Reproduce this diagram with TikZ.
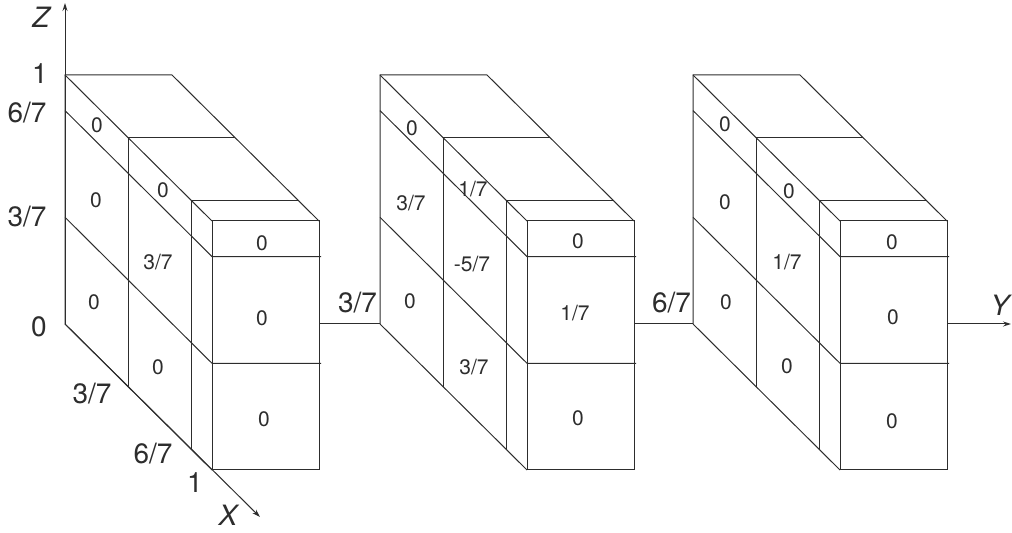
\documentclass[tikz,border=0pt]{standalone}
\usepackage{fontspec}
\setmainfont{TeX Gyre Heros}
\usetikzlibrary{arrows.meta,calc}
\definecolor{inkgray}{RGB}{45,45,45}

\begin{document}
\begin{tikzpicture}[x=0.5pt, y=-0.5pt,
    edge/.style={draw=inkgray, line width=0.5pt},
    axis/.style={edge, -{Stealth[length=4pt, width=2.5pt]}},
    axlabel/.style={font=\fontsize{14}{14}\selectfont, text=inkgray, inner sep=0pt},
    cell/.style={font=\fontsize{10.5}{10.5}\selectfont, text=inkgray, inner sep=0pt}]

    \useasboundingbox (0,0) rectangle (1012,533);

    % Slabs (back top left corner at (\ox,75))
    \foreach \n/\ox in {1/65, 2/380, 3/693} {
        \coordinate (s\n-o) at (\ox,324);
        \coordinate (s\n-r) at (\ox+254,324);
        \draw[edge] (\ox,324) -- (\ox,75) -- (\ox+107,75) -- (\ox+254,221);
        \draw[edge] (\ox,75) -- (\ox+147,221);
        \draw[edge] (\ox,324) -- (\ox+147,470);
        \draw[edge] (\ox+147,221) rectangle (\ox+254,470);
        % X divisions
        \foreach \t in {3,6}
            \draw[edge] (\ox+\t*21,{75+\t*146/7+249}) -- (\ox+\t*21,{75+\t*146/7})
                -- ++(107,0);
        % Z divisions
        \foreach \k in {1,4}
            \draw[edge] (\ox,{75+\k*249/7}) -- ++(147,146) -- ++(109,0);
    }

    % Axes
    \draw[axis] (s1-o) -- (65,3) coordinate (ztip);
    \draw[axis] (s1-o) -- (260,517) coordinate (xtip);
    \draw[edge] (s1-r) -- node[axlabel, above=5pt, xshift=4pt] (y1) {3/7} (s2-o);
    \draw[edge] (s2-r) -- node[axlabel, above=5pt, xshift=4pt] (y2) {6/7} (s3-o);
    \draw[axis] (s3-r) -- (1011,324) coordinate (ytip);

    % Axis labels
    \node[axlabel] (zlab) at (41,17) {\itshape Z};
    \node[axlabel] (ylab) at (1000,305) {\itshape Y};
    \node[axlabel] (xlab) at (228,515) {\itshape X};
    \node[axlabel] (z1) at (40,74) {1};
    \node[axlabel] (z67) at (27,113) {6/7};
    \node[axlabel] (z37) at (27,217) {3/7};
    \node[axlabel] (z0) at (39,327) {0};
    \node[axlabel] (x37) at (92,394) {3/7};
    \node[axlabel] (x67) at (153,454) {6/7};
    \node[axlabel] (x1) at (195,483) {1};

    % Cell values
    \foreach \x/\y/\v [count=\i] in {97/125/0, 96/200/0, 94/302/0,
            163/190/0, 158/262/3\slash 7, 158/367/0,
            262/243/0, 262/318/0, 264/419/0,
            412/128/0, 411/203/3\slash 7, 410/301/0,
            473/189/1\slash 7, 472/264/-5\slash 7, 474/367/3\slash 7,
            578/241/0, 575/313/1\slash 7, 578/418/0,
            725/124/0, 725/202/0, 726/302/0,
            789/191/0, 787/262/1\slash 7, 787/366/0,
            892/242/0, 893/317/0, 892/421/0}
        \node[cell] (c\i) at (\x,\y) {\v};
\end{tikzpicture}
\end{document}
